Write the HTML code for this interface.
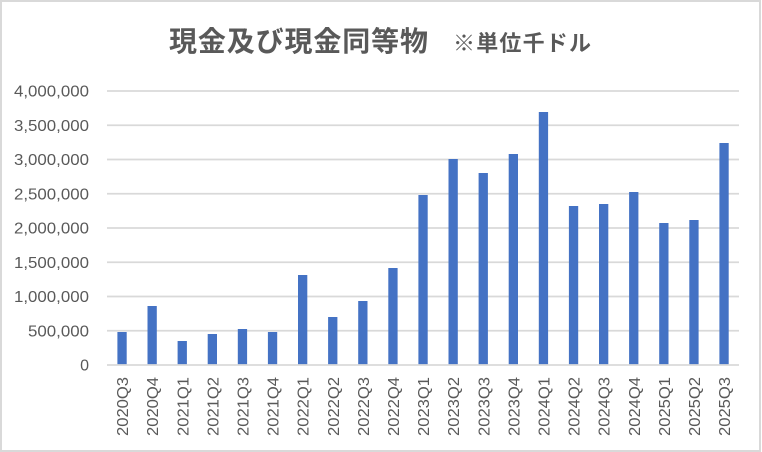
<!DOCTYPE html>
<html><head><meta charset="utf-8"><style>
html,body{margin:0;padding:0;background:#fff;width:762px;height:452px;overflow:hidden}
svg{display:block}
text{font-family:"Liberation Sans","Noto Sans CJK JP",sans-serif;fill:#595959}
</style></head><body>
<svg width="762" height="452" viewBox="0 0 762 452" xmlns="http://www.w3.org/2000/svg">
<rect x="0" y="0" width="762" height="452" fill="#fff"/>
<rect x="1" y="1" width="759" height="450" fill="none" stroke="#d9d9d9" stroke-width="2"/>
<text x="169" y="51" font-size="28" font-weight="bold" textLength="259" lengthAdjust="spacing">現金及び現金同等物</text>
<text x="453" y="51" font-size="22" font-weight="bold" textLength="138" lengthAdjust="spacing">※単位千ドル</text>
<g stroke="#d9d9d9" stroke-width="1.8">
<line x1="107" x2="739" y1="91" y2="91"/>
<line x1="107" x2="739" y1="125.25" y2="125.25"/>
<line x1="107" x2="739" y1="159.5" y2="159.5"/>
<line x1="107" x2="739" y1="193.75" y2="193.75"/>
<line x1="107" x2="739" y1="228" y2="228"/>
<line x1="107" x2="739" y1="262.25" y2="262.25"/>
<line x1="107" x2="739" y1="296.5" y2="296.5"/>
<line x1="107" x2="739" y1="330.75" y2="330.75"/>
</g>
<g fill="#4472c4">
<rect x="117.4" y="332" width="9.3" height="33"/>
<rect x="147.5" y="306" width="9.3" height="59"/>
<rect x="177.6" y="341" width="9.3" height="24"/>
<rect x="207.7" y="334" width="9.3" height="31"/>
<rect x="237.8" y="329" width="9.3" height="36"/>
<rect x="267.9" y="332" width="9.3" height="33"/>
<rect x="298.0" y="275" width="9.3" height="90"/>
<rect x="328.1" y="317" width="9.3" height="48"/>
<rect x="358.2" y="301" width="9.3" height="64"/>
<rect x="388.3" y="268" width="9.3" height="97"/>
<rect x="418.4" y="195" width="9.3" height="170"/>
<rect x="448.5" y="159" width="9.3" height="206"/>
<rect x="478.6" y="173" width="9.3" height="192"/>
<rect x="508.7" y="154" width="9.3" height="211"/>
<rect x="538.8" y="112" width="9.3" height="253"/>
<rect x="568.9" y="206" width="9.3" height="159"/>
<rect x="599.0" y="204" width="9.3" height="161"/>
<rect x="629.1" y="192" width="9.3" height="173"/>
<rect x="659.2" y="223" width="9.3" height="142"/>
<rect x="689.3" y="220" width="9.3" height="145"/>
<rect x="719.4" y="143" width="9.3" height="222"/>
</g>
<line x1="107" x2="739" y1="365" y2="365" stroke="#d9d9d9" stroke-width="1.8"/>
<g font-size="16" text-anchor="end">
<text x="89" y="96.5" textLength="75" lengthAdjust="spacingAndGlyphs">4,000,000</text>
<text x="89" y="130.75" textLength="75" lengthAdjust="spacingAndGlyphs">3,500,000</text>
<text x="89" y="165" textLength="75" lengthAdjust="spacingAndGlyphs">3,000,000</text>
<text x="89" y="199.25" textLength="75" lengthAdjust="spacingAndGlyphs">2,500,000</text>
<text x="89" y="233.5" textLength="75" lengthAdjust="spacingAndGlyphs">2,000,000</text>
<text x="89" y="267.75" textLength="75" lengthAdjust="spacingAndGlyphs">1,500,000</text>
<text x="89" y="302" textLength="75" lengthAdjust="spacingAndGlyphs">1,000,000</text>
<text x="89" y="336.25" textLength="61" lengthAdjust="spacingAndGlyphs">500,000</text>
<text x="89" y="370.5">0</text>
</g>
<g font-size="16" text-anchor="end">
<text transform="translate(128.05,377) rotate(-90)" textLength="59" lengthAdjust="spacingAndGlyphs">2020Q3</text>
<text transform="translate(158.15,377) rotate(-90)" textLength="59" lengthAdjust="spacingAndGlyphs">2020Q4</text>
<text transform="translate(188.25,377) rotate(-90)" textLength="59" lengthAdjust="spacingAndGlyphs">2021Q1</text>
<text transform="translate(218.35,377) rotate(-90)" textLength="59" lengthAdjust="spacingAndGlyphs">2021Q2</text>
<text transform="translate(248.45,377) rotate(-90)" textLength="59" lengthAdjust="spacingAndGlyphs">2021Q3</text>
<text transform="translate(278.55,377) rotate(-90)" textLength="59" lengthAdjust="spacingAndGlyphs">2021Q4</text>
<text transform="translate(308.65,377) rotate(-90)" textLength="59" lengthAdjust="spacingAndGlyphs">2022Q1</text>
<text transform="translate(338.75,377) rotate(-90)" textLength="59" lengthAdjust="spacingAndGlyphs">2022Q2</text>
<text transform="translate(368.85,377) rotate(-90)" textLength="59" lengthAdjust="spacingAndGlyphs">2022Q3</text>
<text transform="translate(398.95,377) rotate(-90)" textLength="59" lengthAdjust="spacingAndGlyphs">2022Q4</text>
<text transform="translate(429.05,377) rotate(-90)" textLength="59" lengthAdjust="spacingAndGlyphs">2023Q1</text>
<text transform="translate(459.15,377) rotate(-90)" textLength="59" lengthAdjust="spacingAndGlyphs">2023Q2</text>
<text transform="translate(489.25,377) rotate(-90)" textLength="59" lengthAdjust="spacingAndGlyphs">2023Q3</text>
<text transform="translate(519.35,377) rotate(-90)" textLength="59" lengthAdjust="spacingAndGlyphs">2023Q4</text>
<text transform="translate(549.45,377) rotate(-90)" textLength="59" lengthAdjust="spacingAndGlyphs">2024Q1</text>
<text transform="translate(579.55,377) rotate(-90)" textLength="59" lengthAdjust="spacingAndGlyphs">2024Q2</text>
<text transform="translate(609.65,377) rotate(-90)" textLength="59" lengthAdjust="spacingAndGlyphs">2024Q3</text>
<text transform="translate(639.75,377) rotate(-90)" textLength="59" lengthAdjust="spacingAndGlyphs">2024Q4</text>
<text transform="translate(669.85,377) rotate(-90)" textLength="59" lengthAdjust="spacingAndGlyphs">2025Q1</text>
<text transform="translate(699.95,377) rotate(-90)" textLength="59" lengthAdjust="spacingAndGlyphs">2025Q2</text>
<text transform="translate(730.05,377) rotate(-90)" textLength="59" lengthAdjust="spacingAndGlyphs">2025Q3</text>
</g>
</svg>
</body></html>
